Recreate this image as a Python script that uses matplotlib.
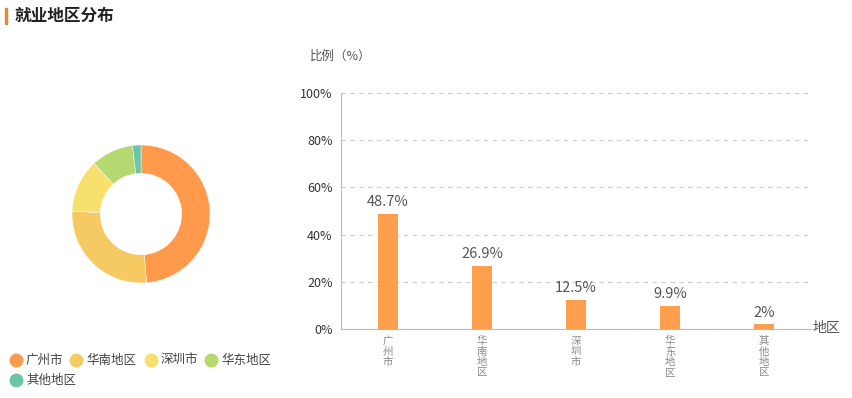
import matplotlib.pyplot as plt

plt.rcParams['font.family'] = ['Noto Sans CJK SC', 'DejaVu Sans']

regions = ["广州市", "华南地区", "深圳市", "华东地区", "其他地区"]
shares = [48.7, 26.9, 12.5, 9.9, 2.0]
pie_colors = ["#FF9A4C", "#F5CA63", "#F8E06E", "#B6D871", "#6CC6A5"]
bar_color = "#FF9E4D"

W, H = 852, 398
fig = plt.figure(figsize=(W / 100, H / 100), dpi=100)

# title with accent bar
fig.add_artist(plt.Rectangle((5 / W, 1 - 24 / H), 2 / W, 16 / H,
                             transform=fig.transFigure, color="#E8892F"))
fig.text(15 / W, 1 - 16 / H, "就业地区分布", fontsize=12, fontweight="bold",
         va="center", ha="left", color="#222222")

# donut
cx, cy, r = 141, 214, 69
ax_pie = fig.add_axes([(cx - r) / W, 1 - (cy + r) / H, 2 * r / W, 2 * r / H])
ax_pie.pie(shares, colors=pie_colors, startangle=90, counterclock=False,
           wedgeprops=dict(width=0.41, edgecolor="white", linewidth=0.3))
ax_pie.set_xlim(-1, 1)
ax_pie.set_ylim(-1, 1)
ax_pie.set_aspect("equal")

# legend, laid out row by row like the original
leg_pos = [(16, 360), (76, 360), (151, 360), (211, 360), (16, 380)]
for (lx, ly), name, c in zip(leg_pos, regions, pie_colors):
    fig.add_artist(plt.Line2D([lx / W], [1 - ly / H], marker="o", markersize=9,
                              color=c, transform=fig.transFigure))
    fig.text((lx + 10) / W, 1 - ly / H, name, fontsize=9, color="#444444",
             va="center", ha="left")

# bar chart
x0, x1, y0, y1 = 341, 811, 93, 329
ax = fig.add_axes([x0 / W, 1 - y1 / H, (x1 - x0) / W, (y1 - y0) / H])
pos = list(range(len(regions)))
ax.bar(pos, shares, width=0.21, color=bar_color, zorder=3)
for p, v in zip(pos, shares):
    ax.text(p, v + 2, f"{v:g}%", ha="center", va="bottom", fontsize=10.5, color="#555555")
ax.set_xlim(-0.5, 4.5)
ax.set_ylim(0, 100)
ax.set_yticks(range(0, 101, 20))
ax.set_yticklabels([f"{t}%" for t in range(0, 101, 20)], fontsize=9, color="#333333")
ax.set_xticks(pos)
ax.set_xticklabels(["\n".join(s) for s in regions], fontsize=7.5, color="#888888",
                   linespacing=1.05, va="top")
ax.tick_params(axis="both", length=0, pad=6)
ax.tick_params(axis="x", pad=5)
ax.grid(axis="y", linestyle=(0, (4, 4)), color="#CCCCCC", linewidth=0.8, zorder=0)
for s in ["top", "right"]:
    ax.spines[s].set_visible(False)
ax.spines["left"].set_color("#BBBBBB")
ax.spines["bottom"].set_color("#BBBBBB")
ax.spines["left"].set_linewidth(0.8)
ax.spines["bottom"].set_linewidth(0.8)

fig.text(310 / W, 1 - 56 / H, "比例（%）", fontsize=9, color="#555555", va="center", ha="left")
fig.text(813 / W, 1 - 328 / H, "地区", fontsize=10, color="#555555", va="center", ha="left")

fig.savefig("out.png", dpi=100)
